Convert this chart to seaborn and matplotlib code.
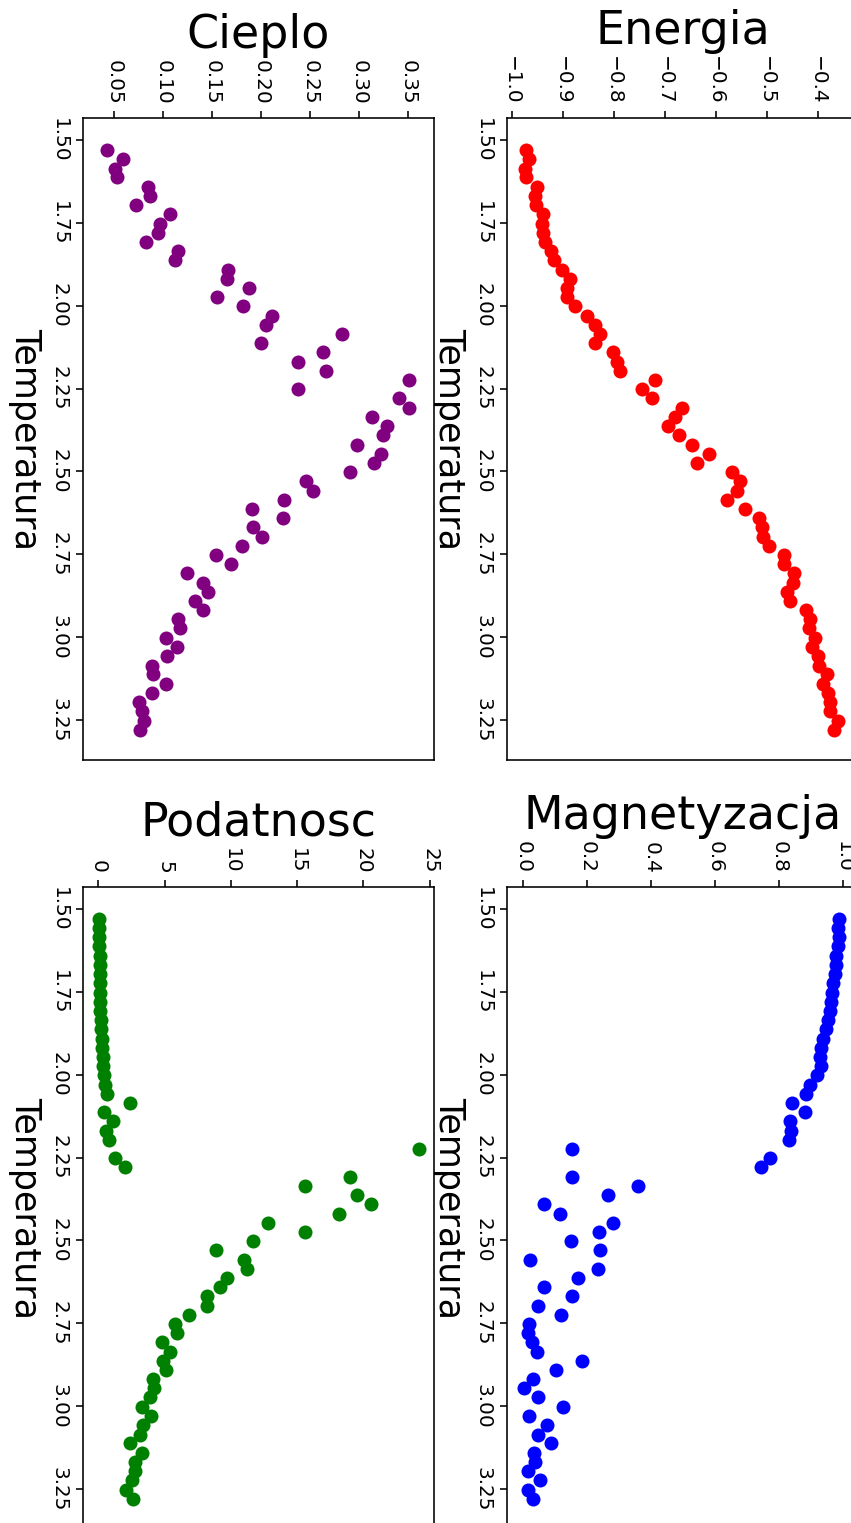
import matplotlib
matplotlib.use('Agg')
import matplotlib.pyplot as plt
import seaborn as sns

# temperatury (wspolne dla wszystkich wykresow)
temperatura = [1.530, 1.558, 1.586, 1.613, 1.641, 1.669, 1.697, 1.724, 1.752, 1.780,
               1.808, 1.836, 1.863, 1.891, 1.919, 1.947, 1.974, 2.002, 2.030, 2.058,
               2.086, 2.113, 2.141, 2.169, 2.197, 2.224, 2.252, 2.280, 2.308, 2.336,
               2.363, 2.391, 2.419, 2.447, 2.474, 2.502, 2.530, 2.558, 2.586, 2.613,
               2.641, 2.669, 2.697, 2.724, 2.752, 2.780, 2.808, 2.836, 2.863, 2.891,
               2.919, 2.947, 2.974, 3.002, 3.030, 3.058, 3.086, 3.113, 3.141, 3.169,
               3.197, 3.224, 3.252, 3.280]

energia = [-0.971, -0.967, -0.974, -0.971, -0.950, -0.954, -0.952, -0.939, -0.941, -0.938,
           -0.935, -0.922, -0.918, -0.902, -0.886, -0.892, -0.892, -0.876, -0.853, -0.837,
           -0.827, -0.837, -0.801, -0.794, -0.788, -0.719, -0.745, -0.725, -0.667, -0.680,
           -0.693, -0.671, -0.647, -0.614, -0.637, -0.569, -0.552, -0.559, -0.578, -0.543,
           -0.516, -0.510, -0.507, -0.495, -0.467, -0.466, -0.446, -0.448, -0.461, -0.454,
           -0.423, -0.416, -0.418, -0.405, -0.412, -0.399, -0.397, -0.381, -0.389, -0.379,
           -0.376, -0.376, -0.360, -0.368]

magnetyzacja = [0.987, 0.983, 0.986, 0.985, 0.978, 0.977, 0.975, 0.970, 0.966, 0.963,
                0.958, 0.953, 0.948, 0.937, 0.930, 0.927, 0.932, 0.919, 0.896, 0.883,
                0.842, 0.880, 0.836, 0.839, 0.831, 0.153, 0.773, 0.743, 0.153, 0.359,
                0.267, 0.066, 0.118, 0.283, 0.238, 0.150, 0.241, 0.023, 0.234, 0.173,
                0.066, 0.153, 0.049, 0.119, 0.021, 0.017, 0.028, 0.044, 0.184, 0.104,
                0.033, 0.004, 0.049, 0.127, 0.021, 0.075, 0.049, 0.087, 0.035, 0.038,
                0.017, 0.054, 0.017, 0.031]

cieplo = [0.0426, 0.0589, 0.0507, 0.0528, 0.0844, 0.0864, 0.0721, 0.1068, 0.0966, 0.0946,
          0.0823, 0.115, 0.112, 0.166, 0.165, 0.187, 0.155, 0.181, 0.211, 0.205,
          0.282, 0.200, 0.263, 0.237, 0.266, 0.351, 0.237, 0.340, 0.351, 0.313,
          0.328, 0.324, 0.298, 0.322, 0.315, 0.290, 0.246, 0.253, 0.223, 0.190,
          0.222, 0.192, 0.201, 0.180, 0.154, 0.169, 0.124, 0.140, 0.146, 0.132,
          0.140, 0.115, 0.117, 0.103, 0.114, 0.104, 0.0885, 0.0895, 0.103, 0.0885,
          0.0752, 0.0783, 0.0803, 0.0762]

podatnosc = [0.05, 0.06, 0.07, 0.08, 0.09, 0.10, 0.11, 0.12, 0.13, 0.14,
             0.15, 0.17, 0.21, 0.25, 0.28, 0.33, 0.36, 0.43, 0.50, 0.68,
             2.39, 0.43, 1.13, 0.58, 0.83, 24.2, 1.26, 2.02, 19.0, 15.6,
             19.5, 20.6, 18.2, 12.8, 15.6, 11.7, 8.9, 11.0, 11.2, 9.7,
             9.2, 8.2, 8.2, 6.85, 5.8, 5.9, 4.8, 5.4, 4.86, 5.1,
             4.15, 4.2, 3.9, 3.27, 3.95, 3.4, 3.15, 2.39, 3.27, 2.77,
             2.77, 2.52, 2.09, 2.64]

temp_ticks = [1.50, 1.75, 2.00, 2.25, 2.50, 2.75, 3.00, 3.25]

fig = plt.figure(figsize=(851 / 144, 1523 / 144), dpi=144)

# (pozycja osi, dane, kolor, tytul, zakres, ticki)
panele = [
    ([0.5954, 0.5010, 0.4132, 0.4213], energia, 'red', 'Energia',
     (-1.0098, -0.3204), [-1.0, -0.9, -0.8, -0.7, -0.6, -0.5, -0.4]),
    ([0.0972, 0.5010, 0.4132, 0.4213], cieplo, 'purple', 'Cieplo',
     (0.0178, 0.3765), [0.05, 0.10, 0.15, 0.20, 0.25, 0.30, 0.35]),
    ([0.5954, -0.0039, 0.4132, 0.4213], magnetyzacja, 'blue', 'Magnetyzacja',
     (-0.0499, 1.0478), [0.0, 0.2, 0.4, 0.6, 0.8, 1.0]),
    ([0.0972, -0.0039, 0.4132, 0.4213], podatnosc, 'green', 'Podatnosc',
     (-1.18, 25.36), [0, 5, 10, 15, 20, 25]),
]

for pos, wartosci, kolor, tytul, zakres, ticki in panele:
    ax = fig.add_axes(pos)
    sns.scatterplot(x=wartosci, y=temperatura, ax=ax, color=kolor,
                    s=36, edgecolor=kolor, linewidth=1)
    ax.set_xlim(*zakres)
    ax.set_ylim(3.371, 1.4345)
    ax.set_xticks(ticki)
    ax.set_yticks(temp_ticks)
    ax.xaxis.tick_top()
    ax.tick_params(axis='both', labelrotation=-90, labelsize=10)
    for lbl in ax.get_yticklabels():
        lbl.set_va('center')
    ax.set_xlabel('')
    ax.set_ylabel('Temperatura', rotation=-90, va='top', fontsize=17.5)
    ax.set_title(tytul, fontsize=23)

plt.savefig('out.png', dpi=144)
